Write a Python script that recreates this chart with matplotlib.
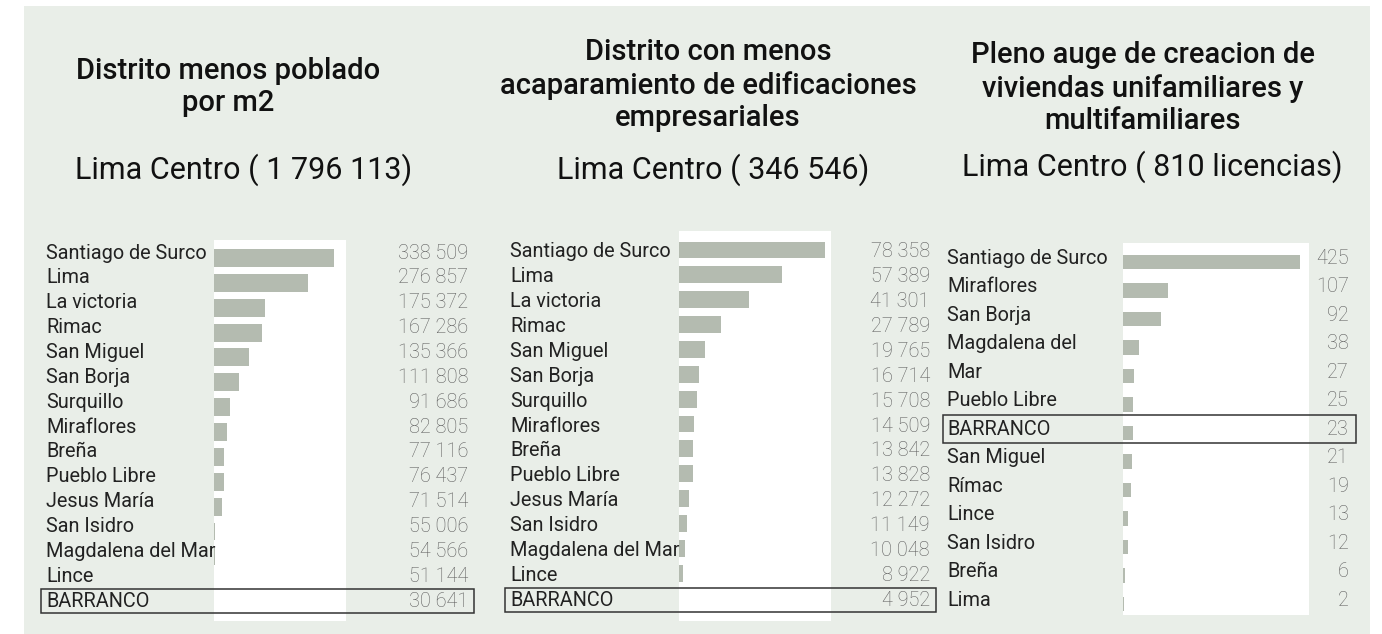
import matplotlib
matplotlib.use('Agg')
import matplotlib.pyplot as plt
import matplotlib.patches as patches
from matplotlib.transforms import blended_transform_factory

plt.rcParams['font.family'] = ['Roboto', 'DejaVu Sans']

W, H = 1382, 634
BG = '#e9eee8'
BAR = '#b4bbb0'
VAL = '#5e5e5e'

# Panel 1: poblacion
dist_pob = ['Santiago de Surco', 'Lima', 'La victoria', 'Rimac', 'San Miguel',
            'San Borja', 'Surquillo', 'Miraflores', 'Breña', 'Pueblo Libre',
            'Jesus María', 'San Isidro', 'Magdalena del Mar', 'Lince', 'BARRANCO']
val_pob = [338509, 276857, 175372, 167286, 135366, 111808, 91686, 82805,
           77116, 76437, 71514, 55006, 54566, 51144, 30641]

# Panel 2: edificaciones empresariales
dist_emp = ['Santiago de Surco', 'Lima', 'La victoria', 'Rimac', 'San Miguel',
            'San Borja', 'Surquillo', 'Miraflores', 'Breña', 'Pueblo Libre',
            'Jesus María', 'San Isidro', 'Magdalena del Mar', 'Lince', 'BARRANCO']
val_emp = [78358, 57389, 41301, 27789, 19765, 16714, 15708, 14509,
           13842, 13828, 12272, 11149, 10048, 8922, 4952]

# Panel 3: licencias de vivienda
dist_lic = ['Santiago de Surco', 'Miraflores', 'San Borja', 'Magdalena del',
            'Mar', 'Pueblo Libre', 'BARRANCO', 'San Miguel', 'Rímac', 'Lince',
            'San Isidro', 'Breña', 'Lima']
val_lic = [425, 107, 92, 38, 27, 25, 23, 21, 19, 13, 12, 6, 2]

titles = ['Distrito menos poblado\npor m2',
          'Distrito con menos\nacaparamiento de edificaciones\nempresariales',
          'Pleno auge de creacion de\nviviendas unifamiliares y\nmultifamiliares']
subtitles = ['Lima Centro ( 1 796 113)', 'Lima Centro ( 346 546)',
             'Lima Centro ( 810 licencias)']


def fmt(v):
    return f'{v:,}'.replace(',', ' ')


fig = plt.figure(figsize=(W / 100, H / 100), dpi=100)
fig.patch.set_facecolor('white')
fig.patches.append(patches.Rectangle((24 / W, 0), (1370 - 24) / W, 1 - 6 / H,
                                     transform=fig.transFigure,
                                     facecolor=BG, edgecolor='none', zorder=-10))


def fx(x):
    return x / W


def fy(y):
    return 1 - y / H


def panel(names, values, strip, ylims, xlims, bar_h, label_x, value_x,
          text_dy, box_x, highlight):
    # strip = (left, top, right, bottom) en pixeles
    l, t, r, b = strip
    ax = fig.add_axes([fx(l), fy(b), (r - l) / W, (b - t) / H], zorder=1)
    ax.set_facecolor('white')
    ys = list(range(len(names)))
    ax.barh(ys, values, height=bar_h, color=BAR)
    ax.set_xlim(*xlims)
    ax.set_ylim(*ylims)
    for s in ax.spines.values():
        s.set_visible(False)
    ax.set_xticks([])
    ax.set_yticks([])
    tr = blended_transform_factory(fig.transFigure, ax.transData)
    for y, name, v in zip(ys, names, values):
        fig.text(fx(label_x), y + text_dy, name, transform=tr, ha='left',
                 va='center', fontsize=14.3, color='#222222', zorder=3)
        fig.text(fx(value_x), y + text_dy, fmt(v), transform=tr, ha='right',
                 va='center', fontsize=14.3, color=VAL, fontweight='light',
                 zorder=3)
    hy = names.index(highlight) + text_dy
    rect = patches.Rectangle((fx(box_x[0]), hy - 0.48),
                             fx(box_x[1]) - fx(box_x[0]), 0.96,
                             transform=tr, fill=False, edgecolor='#333333',
                             linewidth=1.1, clip_on=False, zorder=5)
    fig.add_artist(rect)
    return ax


# paso entre filas ~24.86 px (paneles 1-2) y ~28.5 px (panel 3)
p = 24.86
panel(dist_pob, val_pob, (214, 240, 346, 621),
      ((621 - 258) / p, -(258 - 240) / p), (53000, 367300), 0.72,
      46, 468, -0.2, (41, 474), 'BARRANCO')

panel(dist_emp, val_emp, (679, 231, 831, 621),
      ((621 - 250) / p, -(250 - 231) / p), (7150, 81300), 0.68,
      510, 930, 0.08, (505, 936), 'BARRANCO')

p3 = 28.5
panel(dist_lic, val_lic, (1123, 243, 1309, 615),
      ((615 - 262) / p3, -(262 - 243) / p3), (0, 446.6), 0.5,
      947, 1349, -0.14, (943, 1356), 'BARRANCO')

# titulos (centro del bloque de texto)
title_cfg = [(228, 87), (708, 85), (1143, 88)]
for (cx, cy), txt in zip(title_cfg, titles):
    fig.text(fx(cx), fy(cy), txt, ha='center', va='center', fontsize=21,
             fontweight='medium', linespacing=1.22, color='#111111',
             multialignment='center')

sub_cfg = [(244, 170), (713, 170), (1152, 167)]
for (cx, cy), txt in zip(sub_cfg, subtitles):
    fig.text(fx(cx), fy(cy), txt, ha='center', va='center', fontsize=22,
             color='#111111')

fig.savefig('out.png', dpi=100, facecolor=fig.get_facecolor())
